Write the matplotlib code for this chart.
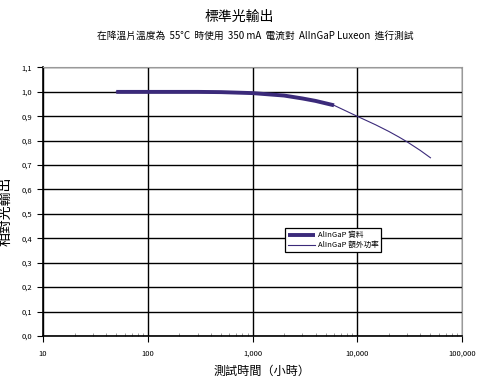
import matplotlib.pyplot as plt
import matplotlib.ticker as mticker
import numpy as np

plt.rcParams['font.family'] = ['Noto Sans CJK TC', 'DejaVu Sans']

# données
heures_mesure = [50, 100, 200, 300, 500, 1000, 2000, 3000, 4000, 6000]
sortie_mesure = [1.000, 1.000, 1.000, 1.000, 0.999, 0.995, 0.985, 0.973, 0.963, 0.945]

heures_extra = [50, 100, 300, 1000, 2000, 3000, 6000, 10000, 15000, 20000, 25000,
                30000, 40000, 50000]
sortie_extra = [1.000, 1.000, 1.000, 0.995, 0.985, 0.973, 0.945, 0.900, 0.865, 0.838,
                0.815, 0.795, 0.760, 0.730]

couleur = '#3b2a7a'

fig = plt.figure(figsize=(4.78, 3.77), dpi=100)
ax = fig.add_axes([0.090, 0.109, 0.8765, 0.712])

ax.plot(heures_extra, sortie_extra, color=couleur, lw=0.8, label='AlInGaP 額外功率')
ax.plot(heures_mesure, sortie_mesure, color=couleur, lw=2.8, label='AlInGaP 資料',
        solid_capstyle='butt')

ax.set_xscale('log')
ax.set_xlim(10, 100000)
ax.set_ylim(0, 1.1)
ax.set_yticks(np.arange(0, 1.11, 0.1))
ax.yaxis.set_major_formatter(mticker.FuncFormatter(lambda v, p: f'{v:.1f}'.replace('.', ',')))
ax.xaxis.set_major_formatter(mticker.FuncFormatter(lambda v, p: f'{v:,.0f}'))

ax.grid(True, which='major', color='black', lw=1.0)
ax.set_axisbelow(True)
for s in ['top', 'right']:
    ax.spines[s].set_color('#999999')
ax.spines['left'].set_linewidth(1.2)
ax.spines['bottom'].set_linewidth(1.2)

ax.tick_params(axis='both', which='major', labelsize=5.5, color='black', length=4,
               direction='out', pad=4)
ax.tick_params(axis='x', which='minor', direction='in', length=2, color='#888888')
ax.tick_params(axis='x', which='major', pad=6)

ax.set_xlabel('測試時間（小時）', fontsize=8.7)
ax.set_ylabel('相對光輸出', fontsize=10, fontweight='medium')
ax.xaxis.set_label_coords(0.523, -0.108)
ax.yaxis.set_label_coords(-0.072, 0.465)

fig.text(0.5, 0.955, '標準光輸出', ha='center', va='center', fontsize=10)
fig.text(0.535, 0.905, '在降溫片溫度為  55°C  時使用  350 mA  電流對  AlInGaP Luxeon  進行測試',
         ha='center', va='center', fontsize=7)

h, l = ax.get_legend_handles_labels()
leg = ax.legend(h[::-1], l[::-1], loc='upper left', bbox_to_anchor=(0.568, 0.415),
                fontsize=5.5, frameon=True, fancybox=False, edgecolor='black',
                framealpha=1, borderpad=0.4, handlelength=3.6, labelspacing=0.25,
                handletextpad=0.3)
leg.get_frame().set_linewidth(0.9)

fig.savefig('out.png', dpi=100)
